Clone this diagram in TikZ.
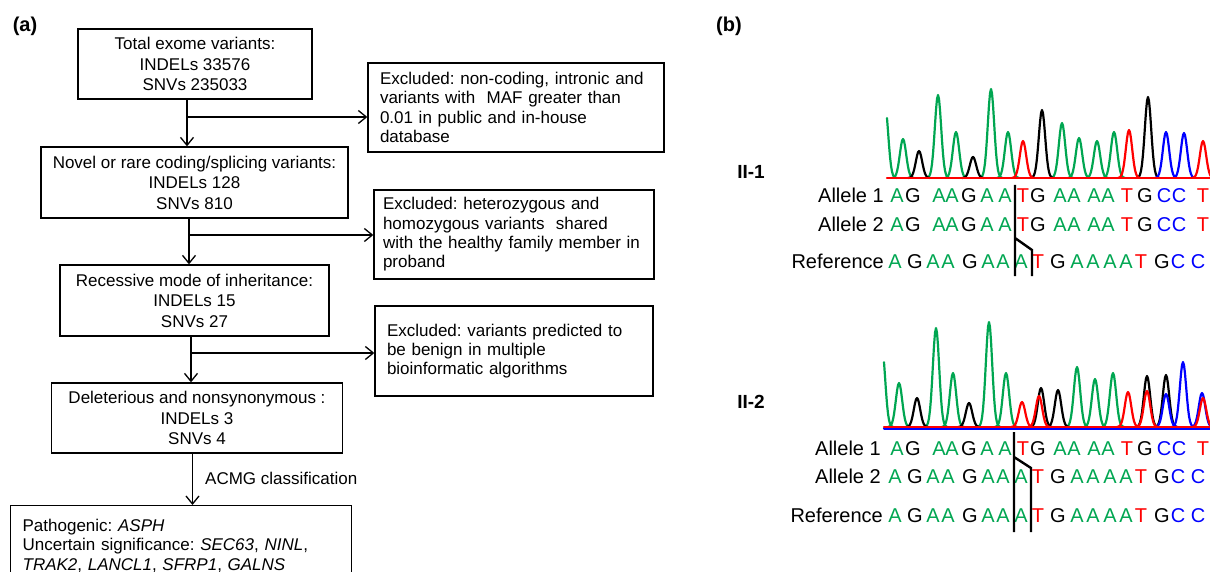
\documentclass[tikz,border=0pt]{standalone}
\usepackage{fontspec}
\setmainfont{Liberation Sans}
\usetikzlibrary{arrows.meta}
\frenchspacing
\definecolor{seqA}{RGB}{0,166,81}
\definecolor{seqG}{RGB}{0,0,0}
\definecolor{seqT}{RGB}{255,0,0}
\definecolor{seqC}{RGB}{0,0,255}
\newcommand{\insseq}{897/A, 913/G, 939/A, 952/A, 969/G, 987/A, 1005/A, 1023/T, 1038/G, 1060/A, 1074/A, 1094/A, 1108/A, 1127/T, 1145/G, 1164/C, 1179/C, 1203/T}
\newcommand{\refseq}{895/A, 915/G, 933/A, 948/A, 970/G, 988/A, 1003/A, 1021/A, 1038/T, 1058/G, 1077/A, 1093/A, 1110/A, 1126/A, 1141/T, 1162/G, 1178/C, 1198/C}
\begin{document}
\begin{tikzpicture}[x=1pt, y=-1pt,
    box/.style={draw, line width=1.3pt, inner sep=3pt, align=center, font=\fontsize{17}{20.5}\selectfont},
    exbox/.style={draw, line width=1.3pt, inner xsep=12pt, align=left, font=\fontsize{17}{19.3}\selectfont},
    arr/.style={line width=1.3pt, -{Straight Barb[length=8pt, width=13pt]}},
    tag/.style={font=\bfseries\fontsize{20}{24}\selectfont},
    lab/.style={anchor=base east, inner sep=0pt, font=\fontsize{20}{24}\selectfont},
    seq/.style={anchor=base, inner sep=0pt, font=\fontsize{20}{24}\selectfont},
    trace/.style={line width=2.2pt, line join=round, line cap=round},
    mk/.style={line width=2.4pt}]
\clip (0,0) rectangle (1210,572);

\node[tag] (la) at (25,26) {(a)};
\node[tag] (lb) at (729,26) {(b)};

\node[box, minimum width=234pt, minimum height=70pt] (tot) at (195,64) {Total exome variants:\\INDELs 33576\\SNVs 235033};
\node[box, minimum width=307pt, minimum height=71pt] (novel) at (194.5,182.5) {Novel or rare coding/splicing variants:\\INDELs 128\\SNVs 810};
\node[box, minimum width=269pt, minimum height=71pt] (rec) at (194.5,300.5) {Recessive mode of inheritance:\\INDELs 15\\SNVs 27};
\node[box, minimum width=291pt, minimum height=70pt] (del) at (197,418) {Deleterious and nonsynonymous :\\INDELs 3\\SNVs 4};
\node[exbox, anchor=north west, text width=317pt, minimum height=80pt, inner ysep=9pt] (path) at (10,505) {Pathogenic: \textit{ASPH}\\Uncertain significance: \textit{SEC63}, \textit{NINL},\\\textit{TRAK2}, \textit{LANCL1}, \textit{SFRP1}, \textit{GALNS}};

\node[exbox, text width=272pt, minimum height=89pt] (ex1) at (516,107.5) {Excluded: non-coding, intronic and\\variants with\ \ MAF greater than\\0.01 in public and in-house\\database};
\node[exbox, inner xsep=9pt, text width=262pt, minimum height=89pt] (ex2) at (514,234.5) {Excluded: heterozygous and\\homozygous variants\ \ shared\\with the healthy family member in\\proband};
\node[exbox, text width=254pt, minimum height=90pt] (ex3) at (514,351) {Excluded: variants predicted to\\be benign in multiple\\bioinformatic algorithms};

\coordinate (j1) at (187,117);
\coordinate (j2) at (189,235);
\coordinate (j3) at (191,353);
\coordinate (j4) at (192.5,478);
\draw[arr] (j1 |- tot.south) -- (j1 |- novel.north);
\draw[arr] (j1) -- (j1 -| ex1.west);
\draw[arr] (j2 |- novel.south) -- (j2 |- rec.north);
\draw[arr] (j2) -- (j2 -| ex2.west);
\draw[arr] (j3 |- rec.south) -- (j3 |- del.north);
\draw[arr] (j3) -- (j3 -| ex3.west);
\draw[arr] (j4 |- del.south) -- (j4 |- path.north);
\node[anchor=west, inner sep=0pt, font=\fontsize{17}{20}\selectfont] (acmg) at (205,478) {ACMG classification};

\node[tag, font=\bfseries\fontsize{19}{23}\selectfont] (p1) at (751,172) {II-1};
\node[tag, font=\bfseries\fontsize{19}{23}\selectfont] (p2) at (751,402) {II-2};

\draw[trace, seqA] plot[domain=887:897, samples=11] (\x, {178-73*exp(-(\x-885)*(\x-885)/20.25)});
\foreach \c/\h in {903/39, 938/83, 956/46, 991/89, 1008/46, 1062/55, 1079/40, 1097/37, 1114/46}
  \draw[trace, seqA] plot[domain=\c-11:\c+11, samples=23] (\x, {178-\h*exp(-(\x-\c)*(\x-\c)/20.25)});
\foreach \c/\h in {919/27, 973/21, 1042/68, 1148/81}
  \draw[trace, seqG] plot[domain=\c-11:\c+11, samples=23] (\x, {178-\h*exp(-(\x-\c)*(\x-\c)/20.25)});
\foreach \c/\h in {1166/46, 1184/45}
  \draw[trace, seqC] plot[domain=\c-11:\c+11, samples=23] (\x, {178-\h*exp(-(\x-\c)*(\x-\c)/20.25)});
\foreach \c/\h in {1023/37, 1129/48, 1203/37}
  \draw[trace, seqT] plot[domain=\c-11:\c+11, samples=23] (\x, {178-\h*exp(-(\x-\c)*(\x-\c)/20.25)});
\draw[trace, seqT] (887,178) -- (1212,178);

\draw[trace, seqA] plot[domain=884:893, samples=10] (\x, {427-79*exp(-(\x-882)*(\x-882)/20.25)});
\foreach \c/\h in {899/44, 936/99, 953/54, 989/105, 1006/54, 1077/60, 1095/48, 1113/54}
  \draw[trace, seqA] plot[domain=\c-11:\c+11, samples=23] (\x, {427-\h*exp(-(\x-\c)*(\x-\c)/20.25)});
\foreach \c/\h in {917/29, 969/24, 1041/39, 1058/37, 1147/51, 1166/52}
  \draw[trace, seqG] plot[domain=\c-11:\c+11, samples=23] (\x, {427-\h*exp(-(\x-\c)*(\x-\c)/20.25)});
\foreach \c/\h in {1166/33, 1183/65, 1202/34}
  \draw[trace, seqC] plot[domain=\c-11:\c+11, samples=23] (\x, {427-\h*exp(-(\x-\c)*(\x-\c)/20.25)});
\foreach \c/\h in {1022/25, 1039/31, 1128/35, 1147/36, 1203/29}
  \draw[trace, seqT] plot[domain=\c-11:\c+11, samples=23] (\x, {427-\h*exp(-(\x-\c)*(\x-\c)/20.25)});
\draw[trace, seqC] (884,428.5) -- (1212,428.5);
\draw[trace, seqT] (884,427) -- (1212,427);

\node[lab] (a11) at (884,203) {Allele 1};
\node[lab] (a12) at (884,232) {Allele 2};
\node[lab] (r1) at (884,269) {Reference};
\node[lab] (a21) at (881,455) {Allele 1};
\node[lab] (a22) at (881,483) {Allele 2};
\node[lab] (r2) at (883,522) {Reference};

\foreach \y/\r in {203/a, 232/b, 455/c}
  \foreach \x/\b [count=\i] in \insseq
    \node[seq, text=seq\b] (s\r\i) at (\x,\y) {\b};
\foreach \y/\r in {269/d, 483/e, 522/f}
  \foreach \x/\b [count=\i] in \refseq
    \node[seq, text=seq\b] (s\r\i) at (\x,\y) {\b};

\draw[mk] (1015,185) -- (1015,276) (1015,238) -- (1032,250) -- (1032,276);
\draw[mk] (1014,432) -- (1014,532) (1014,457) -- (1031,468) -- (1031,532);

\end{tikzpicture}
\end{document}
